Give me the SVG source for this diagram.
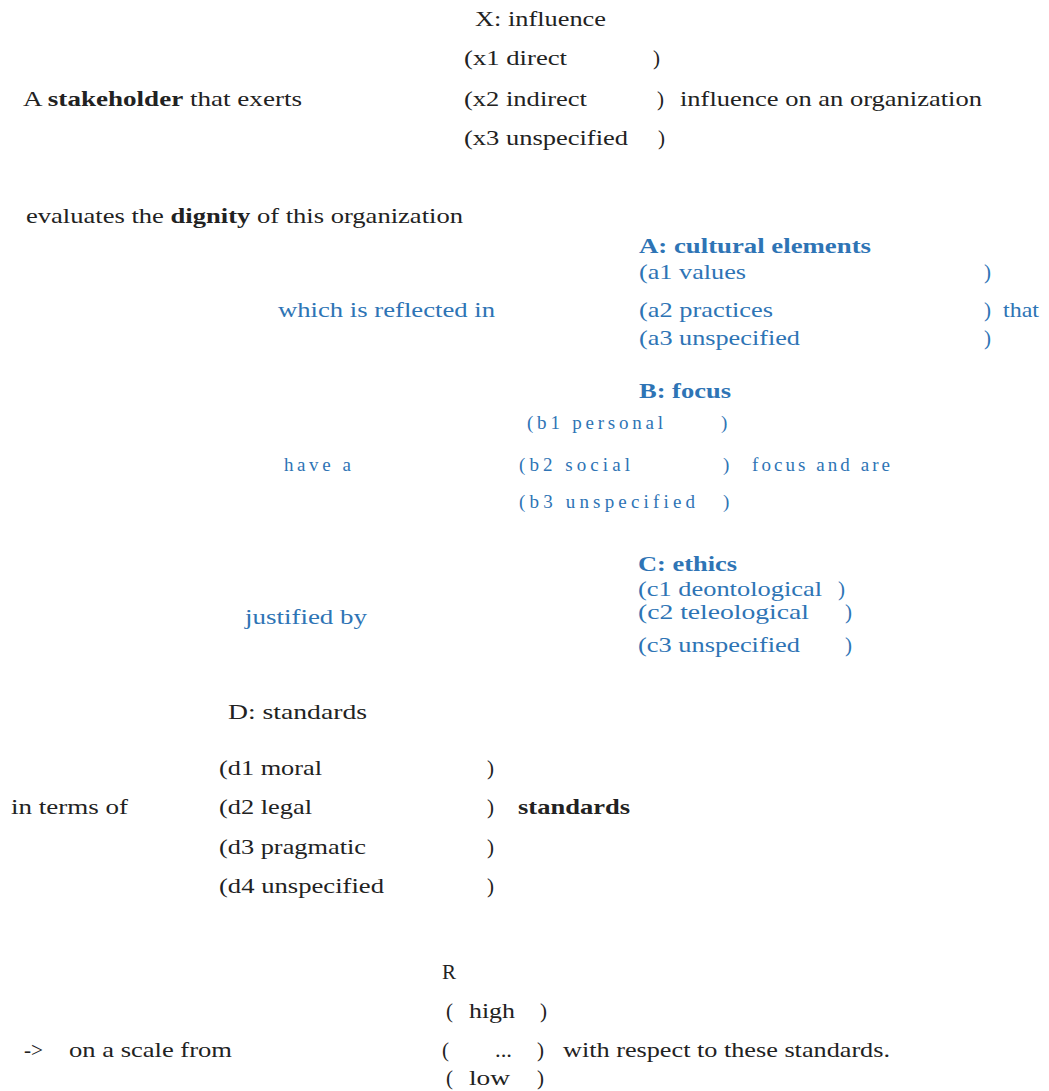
<svg xmlns="http://www.w3.org/2000/svg" width="1049" height="1091" viewBox="0 0 1049 1091">
<style>
text{font-family:'Liberation Serif','DejaVu Serif',serif;font-size:21px;fill:#222222}
.bl{fill:#2e74b5}
.b{font-weight:bold}
.sp{font-size:19px}
</style>
<rect width="1049" height="1091" fill="#ffffff"/>
<g id="stakeholder">
<text x="23" y="106" textLength="279" lengthAdjust="spacingAndGlyphs">A <tspan class="b">stakeholder</tspan> that exerts</text>
</g>
<g id="X-influence">
<text x="475" y="26" textLength="131" lengthAdjust="spacingAndGlyphs">X: influence</text>
<text x="464" y="65" textLength="103" lengthAdjust="spacingAndGlyphs">(x1 direct</text>
<text x="653" y="65">)</text>
<text x="464" y="106" textLength="123" lengthAdjust="spacingAndGlyphs">(x2 indirect</text>
<text x="657" y="106">)</text>
<text x="680" y="106" textLength="302" lengthAdjust="spacingAndGlyphs">influence on an organization</text>
<text x="464" y="145" textLength="164" lengthAdjust="spacingAndGlyphs">(x3 unspecified</text>
<text x="658" y="145">)</text>
</g>
<g id="dignity">
<text x="26" y="223" textLength="437" lengthAdjust="spacingAndGlyphs">evaluates the <tspan class="b">dignity</tspan> of this organization</text>
</g>
<g id="A-cultural-elements">
<text class="bl" x="278" y="317" textLength="217" lengthAdjust="spacingAndGlyphs">which is reflected in</text>
<text class="bl b" x="639" y="253" textLength="232" lengthAdjust="spacingAndGlyphs">A: cultural elements</text>
<text class="bl" x="639" y="279" textLength="107" lengthAdjust="spacingAndGlyphs">(a1 values</text>
<text class="bl" x="984" y="279">)</text>
<text class="bl" x="639" y="317" textLength="134" lengthAdjust="spacingAndGlyphs">(a2 practices</text>
<text class="bl" x="984" y="317">)</text>
<text class="bl" x="1003" y="317" textLength="36" lengthAdjust="spacingAndGlyphs">that</text>
<text class="bl" x="639" y="345" textLength="161" lengthAdjust="spacingAndGlyphs">(a3 unspecified</text>
<text class="bl" x="984" y="345">)</text>
</g>
<g id="B-focus">
<text class="bl b" x="639" y="398" textLength="92" lengthAdjust="spacingAndGlyphs">B: focus</text>
<text class="bl sp" x="527" y="429" textLength="136" lengthAdjust="spacing">(b1 personal</text>
<text class="bl sp" x="721" y="429">)</text>
<text class="bl sp" x="284" y="471" textLength="67" lengthAdjust="spacing">have a</text>
<text class="bl sp" x="519" y="471" textLength="111" lengthAdjust="spacing">(b2 social</text>
<text class="bl sp" x="723" y="471">)</text>
<text class="bl sp" x="752" y="471" textLength="138" lengthAdjust="spacing">focus and are</text>
<text class="bl sp" x="519" y="508" textLength="176" lengthAdjust="spacing">(b3 unspecified</text>
<text class="bl sp" x="723" y="508">)</text>
</g>
<g id="C-ethics">
<text class="bl" x="245" y="624" textLength="122" lengthAdjust="spacingAndGlyphs">justified by</text>
<text class="bl b" x="638" y="571" textLength="99" lengthAdjust="spacingAndGlyphs">C: ethics</text>
<text class="bl" x="638" y="596" textLength="184" lengthAdjust="spacingAndGlyphs">(c1 deontological</text>
<text class="bl" x="838" y="596">)</text>
<text class="bl" x="638" y="619" textLength="171" lengthAdjust="spacingAndGlyphs">(c2 teleological</text>
<text class="bl" x="845" y="619">)</text>
<text class="bl" x="638" y="652" textLength="162" lengthAdjust="spacingAndGlyphs">(c3 unspecified</text>
<text class="bl" x="845" y="652">)</text>
</g>
<g id="D-standards">
<text x="228" y="719" textLength="139" lengthAdjust="spacingAndGlyphs">D:  standards</text>
<text x="11" y="814" textLength="117" lengthAdjust="spacingAndGlyphs">in terms of</text>
<text x="219" y="775" textLength="103" lengthAdjust="spacingAndGlyphs">(d1 moral</text>
<text x="487" y="775">)</text>
<text x="219" y="814" textLength="93" lengthAdjust="spacingAndGlyphs">(d2 legal</text>
<text x="487" y="814">)</text>
<text class="b" x="518" y="814" textLength="112" lengthAdjust="spacingAndGlyphs">standards</text>
<text x="219" y="854" textLength="147" lengthAdjust="spacingAndGlyphs">(d3 pragmatic</text>
<text x="487" y="854">)</text>
<text x="219" y="893" textLength="165" lengthAdjust="spacingAndGlyphs">(d4 unspecified</text>
<text x="487" y="893">)</text>
</g>
<g id="R-scale">
<text x="442" y="979">R</text>
<text x="446" y="1018">(</text>
<text x="469" y="1018" textLength="46" lengthAdjust="spacingAndGlyphs">high</text>
<text x="540" y="1018">)</text>
<text x="24" y="1057" textLength="19" lengthAdjust="spacingAndGlyphs">-&gt;</text>
<text x="69" y="1057" textLength="163" lengthAdjust="spacingAndGlyphs">on a scale from</text>
<text x="442" y="1057">(</text>
<text x="495" y="1057" textLength="17" lengthAdjust="spacingAndGlyphs">...</text>
<text x="537" y="1057">)</text>
<text x="563" y="1057" textLength="327" lengthAdjust="spacingAndGlyphs">with respect to these standards.</text>
<text x="446" y="1085">(</text>
<text x="469" y="1085" textLength="41" lengthAdjust="spacingAndGlyphs">low</text>
<text x="537" y="1085">)</text>
</g>
</svg>
